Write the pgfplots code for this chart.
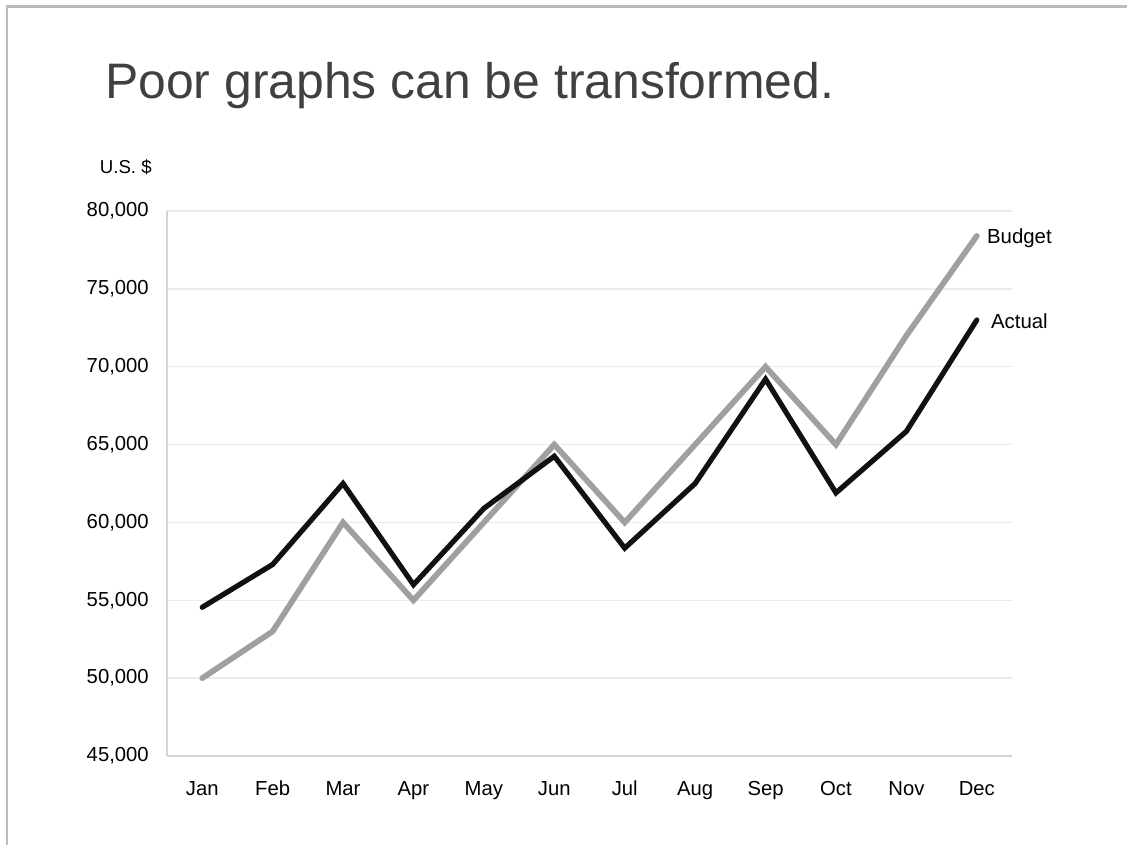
\documentclass[border=0pt]{standalone}
\usepackage{pgfplots}
\pgfplotsset{compat=1.18}
\usepackage{fontspec}
\setmainfont{Liberation Sans}
\definecolor{budgetgray}{HTML}{A0A0A0}
\definecolor{actualblack}{HTML}{111111}
\definecolor{framegray}{HTML}{BBBBBB}
\definecolor{titlegray}{HTML}{404040}
\definecolor{gridgray}{HTML}{EBEBEB}
\definecolor{axisgray}{HTML}{D4D4D4}
\pgfplotstableread{
x y
0 50000
1 53000
2 60000
3 55000
4 60000
5 65000
6 60000
7 65000
8 70000
9 65000
10 72000
11 78400
}\budget
\pgfplotstableread{
x y
0 54550
1 57300
2 62500
3 56000
4 60900
5 64250
6 58350
7 62500
8 69200
9 61900
10 65850
11 73000
}\actual
\begin{document}
\begin{tikzpicture}
\useasboundingbox (0,0) rectangle (845.25pt,-633.75pt);
\draw[framegray, line width=1.6pt] (5.5pt,-640pt) -- (5.5pt,-4.9pt) -- (850pt,-4.9pt);
\node[anchor=base west, text=titlegray, font=\fontsize{37.4}{42}\selectfont, inner sep=0] at (78.75pt,-74.25pt) {Poor graphs can be transformed.};
\node[anchor=base east, font=\fontsize{14}{16}\selectfont, inner sep=0] at (114pt,-130.5pt) {U.S. \$};
\begin{axis}[
  at={(125.25pt,-567pt)}, anchor=south west,
  scale only axis, width=633.75pt, height=408.75pt,
  xmin=-0.5, xmax=11.5, ymin=45000, ymax=80000,
  clip=false,
  ytick={45000,50000,...,80000},
  xtick={0,...,11},
  xticklabels={Jan,Feb,Mar,Apr,May,Jun,Jul,Aug,Sep,Oct,Nov,Dec},
  axis x line*=bottom, axis y line*=left,
  x axis line style={-, axisgray, line width=1.6pt},
  y axis line style={-, axisgray, line width=1.2pt},
  major tick length=0pt,
  ymajorgrids, grid style={gridgray, line width=1.1pt},
  tick label style={font=\fontsize{15.2}{18}\selectfont, text=black},
  yticklabel style={inner sep=0pt, anchor=east, xshift=-13.5pt},
  xticklabel style={inner sep=0pt, anchor=base, yshift=-29.25pt},
  scaled y ticks=false,
  /pgf/number format/.cd, fixed, 1000 sep={,}, assume math mode=true,
]
\addplot[budgetgray, line width=4.3pt, line cap=round, line join=miter] table[x=x,y=y]{\budget};
\addplot[actualblack, line width=3.9pt, line cap=round, line join=miter] table[x=x,y=y]{\actual};
\node[anchor=base west, font=\fontsize{15.3}{18}\selectfont, inner sep=0, xshift=7.5pt, yshift=-6pt] at (axis cs:11,78400) {Budget};
\node[anchor=base west, font=\fontsize{15.3}{18}\selectfont, inner sep=0, xshift=10.5pt, yshift=-6pt] at (axis cs:11,73000) {Actual};
\end{axis}
\end{tikzpicture}
\end{document}
